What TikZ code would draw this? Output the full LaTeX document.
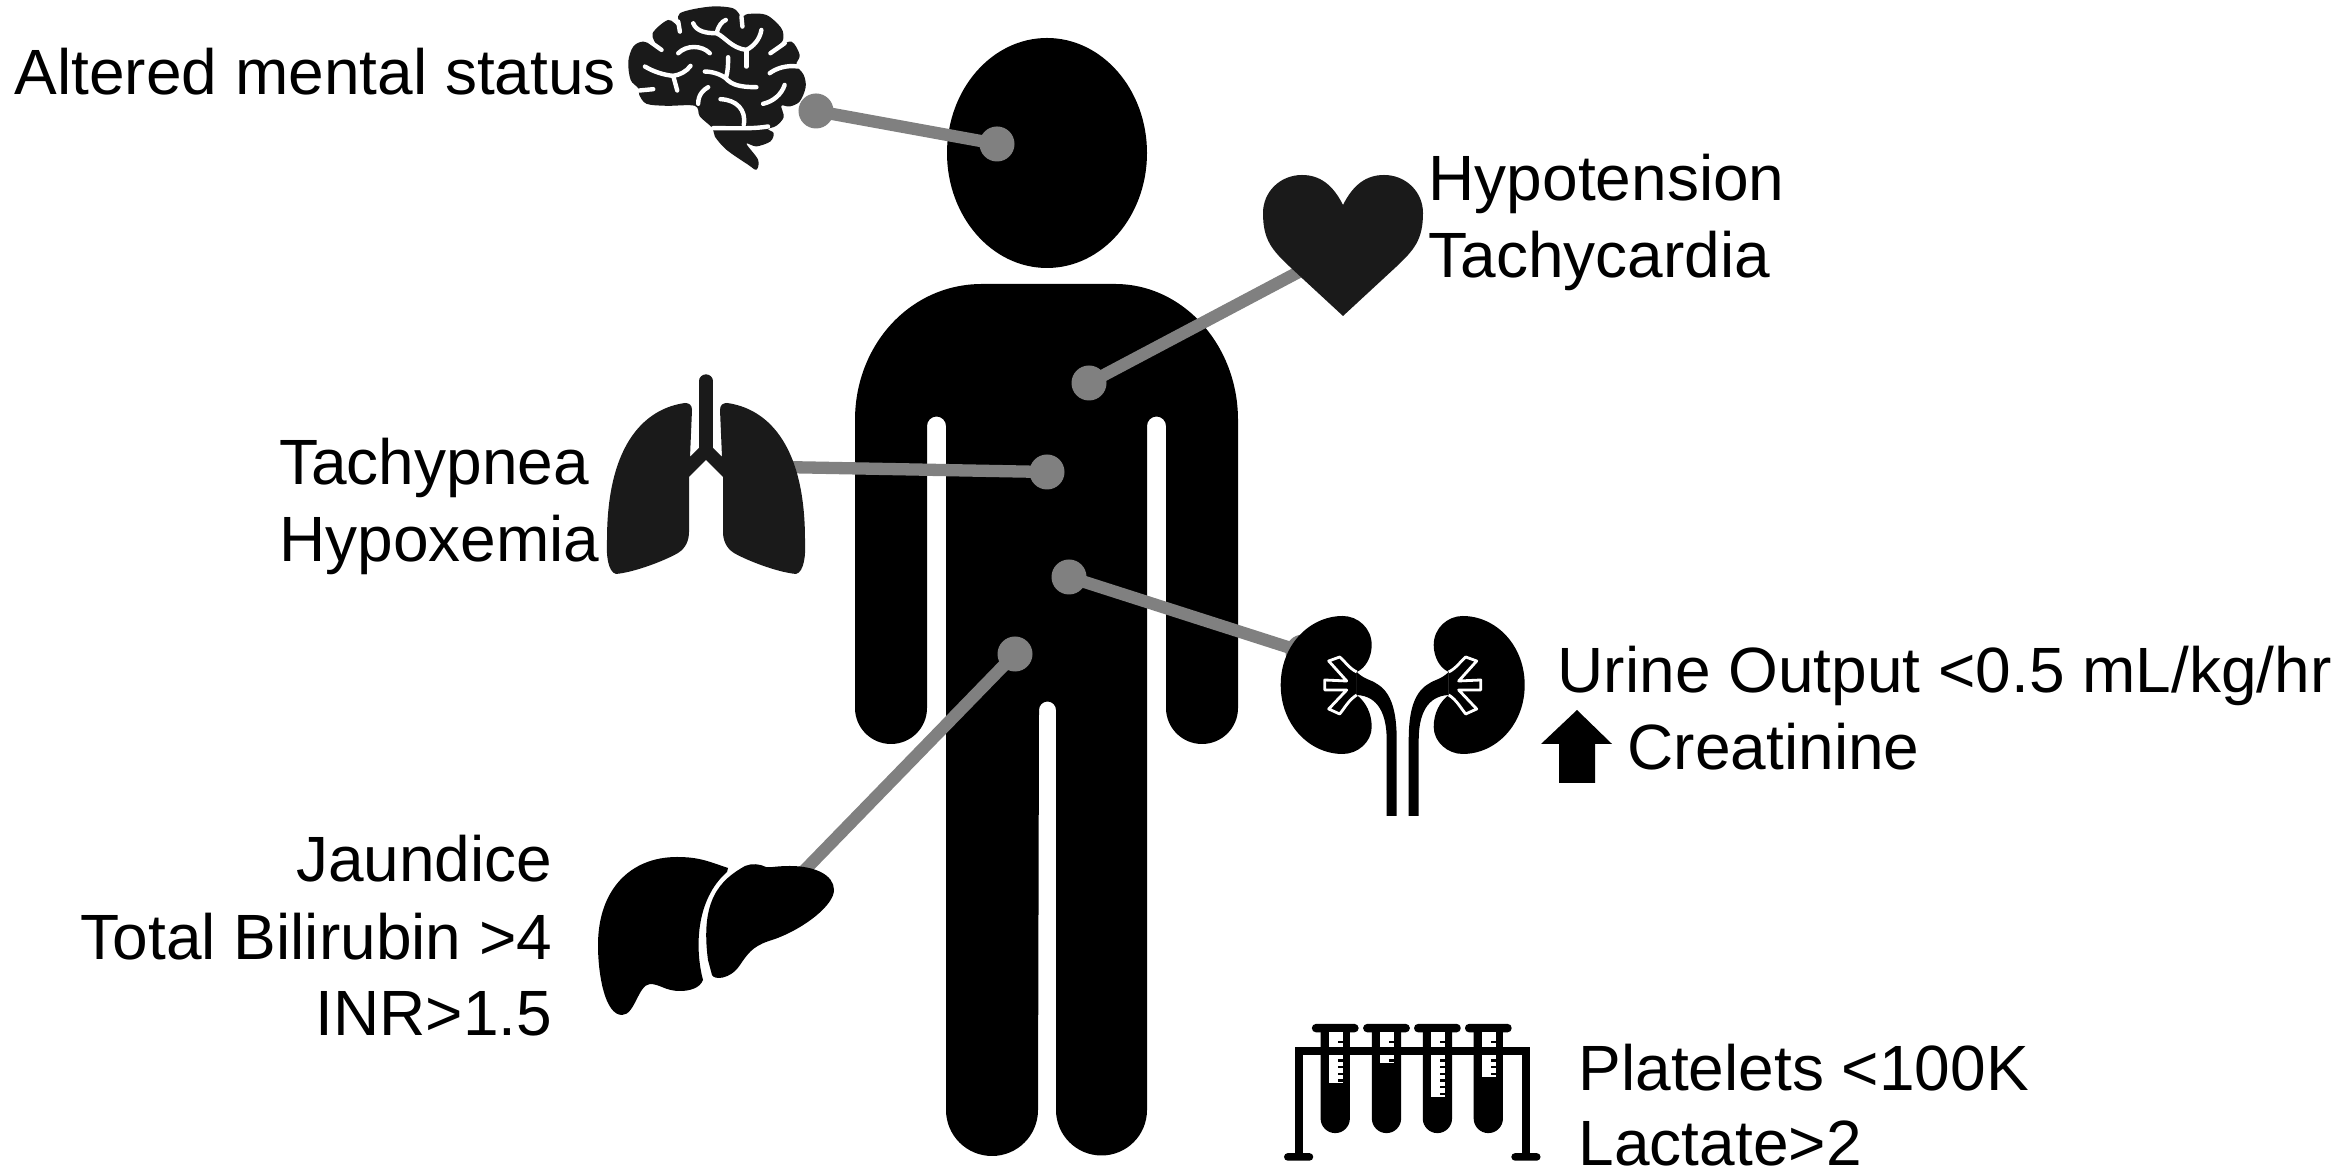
\documentclass[tikz,border=0pt]{standalone}
\usepackage{fontspec}
\setmainfont{Liberation Sans}
\usepackage{xcolor}
\usetikzlibrary{positioning}

\definecolor{organ}{HTML}{1A1A1A}
\definecolor{pointer}{HTML}{808080}

\tikzset{
    label/.style={inner sep=0pt, font=\fontsize{18.2}{21.9}\selectfont},
    dot/.style={circle, fill=pointer, inner sep=0pt, minimum size=0.35cm},
    pointerline/.style={draw=pointer, line width=3.5pt},
    sulcus/.style={draw=white, line width=1.25pt, line cap=round},
}

\begin{document}
\begin{tikzpicture}[x=0.01cm, y=-0.01cm]
    \useasboundingbox (0,0) rectangle (2348,1171);

    % Person
    \fill (1047,153) ellipse [x radius=100, y radius=115];
    \fill (982,284) -- (1115,284) .. controls (1183,284) and (1238,345) .. (1238,420)
        -- (1238,708) arc [start angle=0, end angle=180, radius=36]
        -- (1166,426) arc [start angle=0, end angle=-180, radius=9.5]
        -- (1147,1110) arc [start angle=0, end angle=180, radius=45.5]
        -- (1056,710) arc [start angle=0, end angle=-180, radius=8.5]
        -- (1038,1110) arc [start angle=0, end angle=180, radius=46]
        -- (946,426) arc [start angle=0, end angle=-180, radius=9.5]
        -- (927,708) arc [start angle=0, end angle=180, radius=36]
        -- (855,420) .. controls (855,345) and (910,284) .. (982,284) -- cycle;

    % Pointers
    \node[dot] (brainDot) at (816,111) {};
    \node[dot] (headDot) at (997,144) {};
    \node[dot] (heartDot) at (1089,383) {};
    \node[dot] (lungDot) at (1047,472) {};
    \node[dot] (kidneyDot) at (1069,577) {};
    \node[dot] (liverDot) at (1015,654) {};
    \node[dot] (kidneyEnd) at (1303,652) {};
    \coordinate (heartEnd) at (1310,266);
    \coordinate (lungEnd) at (780,467);
    \coordinate (liverEnd) at (800,875);
    \draw[pointerline] (brainDot.center) -- (headDot.center);
    \draw[pointerline] (heartDot.center) -- (heartEnd);
    \draw[pointerline] (lungDot.center) -- (lungEnd);
    \draw[pointerline] (kidneyDot.center) -- (kidneyEnd.center);
    \draw[pointerline] (liverDot.center) -- (liverEnd);

    % Brain
    \begin{scope}[shift={(600,0)}, x=0.00333cm, y=-0.00333cm]
        \fill[organ] plot[smooth cycle, tension=0.55] coordinates {
            (85,185) (100,140) (130,125) (168,138) (158,100) (205,60) (238,80) (240,40)
            (330,20) (400,25) (425,50) (445,42) (500,45) (545,85) (550,120) (532,142)
            (575,125) (600,165) (590,195) (612,225) (618,262) (600,305) (570,320) (545,318)
            (552,352) (530,378) (505,388) (522,400) (512,425) (470,440) (440,432) (475,480)
            (470,510) (445,495) (380,450) (345,410) (338,385) (300,350) (285,318) (200,318)
            (140,312) (118,285) (115,265) (92,240)};
        \draw[sulcus] (280,70) .. controls (290,95) and (320,100) .. (350,100)
            .. controls (375,110) and (395,145) .. (440,150) .. controls (460,140) and (480,120) .. (485,90);
        \draw[sulcus] (350,100) .. controls (355,80) and (365,65) .. (378,60);
        \draw[sulcus] (440,150) -- (440,200);
        \draw[sulcus] (235,160) .. controls (260,135) and (305,135) .. (330,160);
        \draw[sulcus] (135,200) .. controls (160,215) and (190,225) .. (220,228) .. controls (240,225) and (260,215) .. (272,198);
        \draw[sulcus] (220,228) -- (232,272);
        \draw[sulcus] (315,215) .. controls (340,215) and (365,225) .. (378,235) .. controls (385,215) and (385,190) .. (385,172);
        \draw[sulcus] (378,235) .. controls (395,255) and (420,262) .. (470,262);
        \draw[sulcus] (118,272) -- (160,268);
        \draw[sulcus] (362,298) .. controls (410,300) and (440,330) .. (432,375);
        \draw[sulcus] (340,385) .. controls (400,385) and (460,388) .. (505,380);
        \draw[sulcus] (490,312) .. controls (520,305) and (545,285) .. (555,255);
        \draw[sulcus] (510,220) .. controls (530,205) and (560,195) .. (596,200);
        \draw[sulcus] (512,160) -- (555,130);
        \draw[sulcus] (295,312) .. controls (295,285) and (310,270) .. (325,262);
        \draw[sulcus] (428,80) -- (425,50);
        \draw[sulcus] (240,95) -- (235,65);
        \draw[sulcus] (185,150) -- (150,125);
    \end{scope}

    % Heart
    \fill[organ] (1343,205) .. controls (1333,185) and (1320,175) .. (1302,175)
        .. controls (1280,175) and (1263,192) .. (1263,213)
        .. controls (1263,240) and (1272,250) .. (1290,267) -- (1343,316) -- (1396,267)
        .. controls (1414,250) and (1423,240) .. (1423,213)
        .. controls (1423,192) and (1406,175) .. (1384,175)
        .. controls (1366,175) and (1353,185) .. (1343,205) -- cycle;

    % Lungs
    \draw[organ, line width=3.8pt, line cap=round] (706,381) -- (706,450);
    \foreach \flip in {1,-1} {
        \begin{scope}[shift={(706,0)}, xscale=\flip]
            \fill[organ] (-6,447) -- (-16,457) -- (-14,410)
                .. controls (-14,405) and (-17,403) .. (-21,403)
                .. controls (-58,408) and (-99,440) .. (-99,540)
                .. controls (-100,555) and (-98,572) .. (-90,574)
                .. controls (-70,572) and (-40,560) .. (-28,553)
                .. controls (-20,548) and (-17,540) .. (-17,532)
                -- (-17,477) -- (0,460) -- (0,447) -- cycle;
        \end{scope}
    }

    % Kidneys
    \foreach \flip in {1,-1} {
        \begin{scope}[shift={(1402.7,0)}, xscale=\flip]
            \fill (-46,672) .. controls (-37,668) and (-31,657) .. (-31,645)
                .. controls (-31,628) and (-45,616) .. (-60,616)
                .. controls (-93,616) and (-122,645) .. (-122,685)
                .. controls (-122,725) and (-93,754) .. (-60,754)
                .. controls (-45,754) and (-31,742) .. (-31,727)
                .. controls (-31,713) and (-37,702) .. (-46,695) -- cycle;
            \fill (-46,672) .. controls (-38,680) and (-30,680) .. (-24,685)
                .. controls (-11,694) and (-6,712) .. (-6,740) -- (-6,816) -- (-16,816) -- (-16,740)
                .. controls (-16,715) and (-24,696) .. (-46,695) -- cycle;
            \draw[draw=white, fill=black, line width=0.8pt, line join=round] (-46,672)
                .. controls (-54,668) and (-58,661) .. (-63,657) -- (-74,661) -- (-56,681)
                -- (-78,680) -- (-78,690) -- (-56,690) -- (-74,709) -- (-63,714)
                .. controls (-58,708) and (-54,700) .. (-46,695);
        \end{scope}
    }

    % Liver
    \fill (728,868) .. controls (710,862) and (700,857) .. (677,857)
        .. controls (630,857) and (598,890) .. (598,945)
        .. controls (598,975) and (605,1015) .. (622,1015)
        .. controls (635,1015) and (638,985) .. (650,984)
        .. controls (660,984) and (665,991) .. (680,991)
        .. controls (690,991) and (700,988) .. (703,980)
        .. controls (695,950) and (695,900) .. (727,872) -- cycle;
    \fill (712,975) .. controls (714,980) and (730,980) .. (740,965)
        .. controls (750,950) and (755,945) .. (775,939)
        .. controls (805,928) and (834,905) .. (834,890)
        .. controls (834,875) and (815,866) .. (790,866)
        .. controls (775,866) and (770,868) .. (766,867)
        .. controls (760,864) and (752,863) .. (745,866)
        .. controls (720,880) and (700,900) .. (708,960) -- cycle;

    % Test tubes
    \begin{scope}[shift={(1270,1000)}, x=0.00333cm, y=-0.00333cm]
        \foreach \tx/\lv in {196/250, 350/190, 503/290, 656/230} {
            \fill[rounded corners=1.1pt] (\tx-70,72) rectangle (\tx+70,97);
            \fill (\tx-44,90) -- (\tx+44,90) -- (\tx+44,356)
                arc [start angle=0, end angle=180, radius=44] -- cycle;
            \fill[white] (\tx-20,97) rectangle (\tx+22,\lv);
        }
        \fill (75,142) rectangle (782,165);
        \fill (75,142) rectangle (98,470);
        \fill (758,142) rectangle (782,470);
        \fill[rounded corners=1.1pt] (42,460) rectangle (130,483);
        \fill[rounded corners=1.1pt] (725,460) rectangle (813,483);
        \foreach \tx/\lv in {196/250, 350/190, 503/290, 656/230} {
            \fill (\tx+8,122) rectangle (\tx+22,130);
            \foreach \ty in {178,198,...,278} {
                \ifnum\ty<\lv
                    \fill (\tx+8,\ty) rectangle (\tx+22,\ty+7);
                \fi
            }
        }
    \end{scope}

    % Up arrow
    \fill (1577,710) -- (1612,744) -- (1595,744) -- (1595,783) -- (1559,783) -- (1559,744) -- (1541,744) -- cycle;

    % Labels
    \node[label, anchor=base west] (mental) at (14,95) {Altered mental status};
    \node[label, anchor=base west] (hypotension) at (1428,201) {Hypotension};
    \node[label, anchor=base west] (tachycardia) at (1428,278) {Tachycardia};
    \node[label, anchor=base west] (tachypnea) at (278.5,485) {Tachypnea};
    \node[label, anchor=base west] (hypoxemia) at (278.5,562) {Hypoxemia};
    \node[label, anchor=base west] (urine) at (1557,693) {Urine Output <0.5 mL/kg/hr};
    \node[label, anchor=base west] (creatinine) at (1627,770) {Creatinine};
    \node[label, anchor=base east] (jaundice) at (553,882) {Jaundice};
    \node[label, anchor=base east] (bilirubin) at (553,960) {Total Bilirubin >4};
    \node[label, anchor=base east] (inr) at (553,1036) {INR>1.5};
    \node[label, anchor=base west] (platelets) at (1578,1091) {Platelets <100K};
    \node[label, anchor=base west] (lactate) at (1578,1166) {Lactate>2};
\end{tikzpicture}
\end{document}
